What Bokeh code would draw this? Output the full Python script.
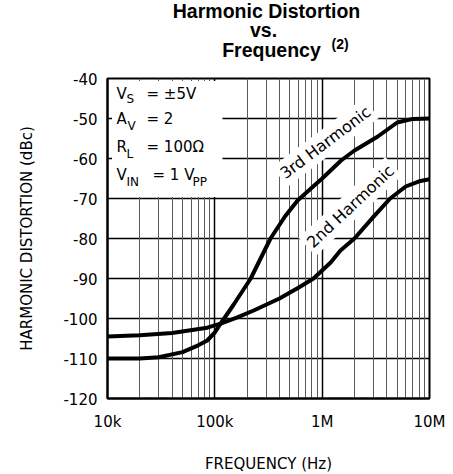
from bokeh.plotting import figure
from bokeh.layouts import column
from bokeh.models import Label, BoxAnnotation, FixedTicker, Grid, Range1d
from bokeh.core.properties import value
from bokeh.embed import file_html
from bokeh.resources import INLINE

# ---------------- data ----------------
freq_3rd = [10e3, 20e3, 30e3, 50e3, 70e3, 85e3, 100e3, 115e3, 150e3, 216e3,
            330e3, 450e3, 590e3, 800e3, 1e6, 1.5e6, 2e6, 3.3e6, 5e6, 7e6, 10e6]
hd3_dbc = [-110, -110, -109.7, -108.4, -106.7, -105.5, -103.5, -101, -96.5, -90,
           -80, -74.5, -70.5, -67.3, -65, -60.5, -58, -54.5, -51, -50.1, -50]

freq_2nd = [10e3, 20e3, 40e3, 85e3, 115e3, 160e3, 230e3, 400e3, 600e3, 830e3,
            1.2e6, 1.48e6, 2e6, 3e6, 4.3e6, 6e6, 8e6, 10e6]
hd2_dbc = [-104.5, -104.2, -103.6, -102.3, -101.2, -99.8, -98, -95, -92.3, -90,
           -86, -83, -80, -74.6, -70, -67, -65.7, -65.2]

x_ticks = [10000, 100000, 1000000, 10000000]
x_tick_labels = ["10k", "100k", "1M", "10M"]
y_ticks = [-120, -110, -100, -90, -80, -70, -60, -50, -40]
y_tick_labels = ["-120", "-110", "-100", "-90", "-80", "-70", "-60", "-50", "-40"]
minor_x = [m * 10 ** k for k in (4, 5, 6) for m in range(2, 10)]

title_lines = ["Harmonic Distortion", "vs.", "Frequency"]
title_note = "(2)"

# ---------------- layout helpers (page pixel -> data) ----------------
FX0, FX1, FY0 = 107.0, 429.0, 78.0   # frame left / right / top on the page
PX_DEC = (FX1 - FX0) / 3.0           # pixels per decade
PX_DB = 320.0 / 80.0                 # pixels per dB
TITLE_H = 62
BASE_FIX = 7                         # baseline correction of the svg text


def fx(px):
    return 1e4 * 10 ** ((px - FX0) / PX_DEC)


def dy(py):
    return -40.0 - (py - BASE_FIX - FY0) / PX_DB


FONT = "DejaVu Sans"
TFONT = "Liberation Sans"

# ---------------- title strip ----------------
tfig = figure(x_range=Range1d(FX0, FX1), y_range=Range1d(TITLE_H, 0),
              frame_width=int(FX1 - FX0), frame_height=TITLE_H,
              min_border_left=int(FX0), min_border_right=453 - int(FX1),
              min_border_top=0, min_border_bottom=0,
              output_backend="svg", toolbar_location=None)
tfig.axis.visible = False
tfig.grid.visible = False
tfig.outline_line_color = None
tfig.title.visible = False
tfig.text(x=[266, 263, 271], y=[10, 29, 49], text=title_lines,
          text_font=value(TFONT), text_font_size="19.5px", text_font_style="bold",
          text_align="center", text_baseline="alphabetic", text_color="black")
tfig.text(x=[331], y=[43], text=[title_note],
          text_font=value(TFONT), text_font_size="14px", text_font_style="bold",
          text_align="left", text_baseline="alphabetic", text_color="black")

# ---------------- main plot ----------------
p = figure(x_axis_type="log", x_range=Range1d(1e4, 1e7), y_range=Range1d(-120, -40),
           frame_width=int(FX1 - FX0), frame_height=320,
           min_border_left=int(FX0), min_border_right=453 - int(FX1),
           min_border_top=int(FY0) - TITLE_H, min_border_bottom=75,
           output_backend="svg", toolbar_location=None,
           background_fill_color="white", border_fill_color="white")
p.title.visible = False
p.outline_line_color = "black"
p.outline_line_width = 2

# grids
p.xgrid.grid_line_color = None
p.ygrid.ticker = FixedTicker(ticks=y_ticks)
p.ygrid.grid_line_color = "black"
p.ygrid.grid_line_width = 1.5
p.add_layout(Grid(dimension=0, ticker=FixedTicker(ticks=minor_x),
                  grid_line_color="#5a5a5a", grid_line_width=1))
p.add_layout(Grid(dimension=0, ticker=FixedTicker(ticks=x_ticks),
                  grid_line_color="black", grid_line_width=1.5))

# axes
p.xaxis.ticker = FixedTicker(ticks=x_ticks)
p.xaxis.major_label_overrides = dict(zip(x_ticks, x_tick_labels))
p.yaxis.ticker = FixedTicker(ticks=y_ticks)
p.yaxis.major_label_overrides = dict(zip(y_ticks, y_tick_labels))
for ax in (p.xaxis[0], p.yaxis[0]):
    ax.major_tick_in = 0
    ax.major_tick_out = 0
    ax.minor_tick_line_color = None
    ax.axis_line_color = "black"
    ax.axis_line_width = 2
    ax.major_label_text_font = FONT
    ax.major_label_text_font_size = "15px"
    ax.major_label_text_color = "black"
    ax.axis_label_text_font = FONT
    ax.axis_label_text_font_size = "15px"
    ax.axis_label_text_font_style = "normal"
    ax.axis_label_text_color = "black"
p.xaxis.major_label_standoff = 14
p.yaxis.major_label_standoff = 10
p.xaxis.axis_label = "FREQUENCY (Hz)"
p.xaxis.axis_label_standoff = 21
p.yaxis.axis_label = "HARMONIC DISTORTION (dBc)"
p.yaxis.axis_label_standoff = 24

# curves
p.line(freq_3rd, hd3_dbc, line_color="black", line_width=4, line_join="round", line_cap="round")
p.line(freq_2nd, hd2_dbc, line_color="black", line_width=4, line_join="round", line_cap="round")

# white box behind conditions text
p.add_layout(BoxAnnotation(left=fx(111.5), right=fx(222), top=-40.0 - 2.5 / PX_DB,
                           bottom=-40.0 - 118.5 / PX_DB,
                           fill_color="white", fill_alpha=1.0, line_color=None))


def lab(px, py, text, size="15px", font=FONT, style="normal", align="left"):
    p.add_layout(Label(x=fx(px), y=dy(py), text=text, text_font=font,
                       text_font_size=size, text_font_style=style, text_color="black",
                       text_align=align, text_baseline="alphabetic"))


# conditions
lab(116, 100, "V")
lab(126, 105, "S", size="12px")
lab(146, 100, "= ±5V")
lab(116, 125, "A")
lab(127, 132, "V", size="12px")
lab(146, 125, "= 2")
lab(116, 153, "R")
lab(126, 160, "L", size="12px")
lab(146, 153, "= 100Ω")
lab(116, 181, "V")
lab(126, 188, "IN", size="12px")
lab(152, 181, "= 1 V")
lab(192, 188, "PP", size="12px")

# curve labels
for px, py, ang, txt in [(325, 142, 37, "3rd Harmonic"), (350, 206, 43, "2nd Harmonic")]:
    p.add_layout(Label(x=fx(px), y=-40.0 - (py - FY0) / PX_DB, text=txt, angle=ang,
                       angle_units="deg",
                       text_font=FONT, text_font_size="16px", text_color="black",
                       text_align="center", text_baseline="middle",
                       background_fill_color="white", background_fill_alpha=1.0,
                       padding=3))

open("out.html", "w").write(file_html(column(tfig, p), INLINE))
